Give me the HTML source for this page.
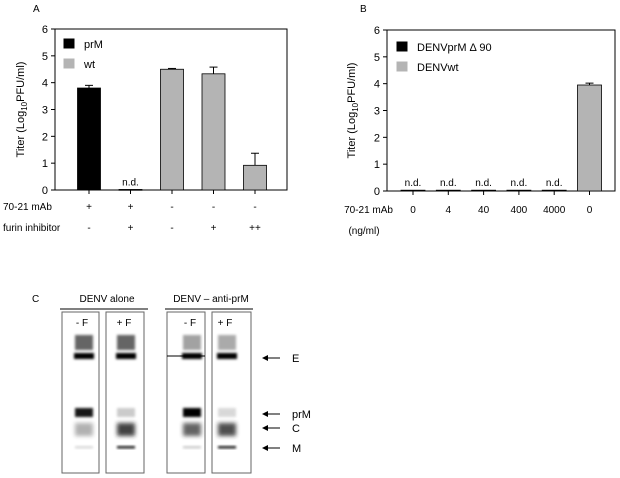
<!DOCTYPE html>
<html><head><meta charset="utf-8"><style>
body{margin:0;background:#fff;}
svg{display:block;font-family:"Liberation Sans",Arial,sans-serif;}
</style></head><body>
<svg width="620" height="478" viewBox="0 0 620 478">
<defs>
<filter id="bl" x="-50%" y="-50%" width="200%" height="200%"><feGaussianBlur stdDeviation="1.3"/></filter>
<filter id="bl2" x="-50%" y="-50%" width="200%" height="200%"><feGaussianBlur stdDeviation="2"/></filter>
</defs>
<g id="chartA"></g>
<g id="chartB"></g>
<g id="gel">
<text x="32" y="302" font-size="10">C</text>
<text x="107" y="302" font-size="10" text-anchor="middle">DENV  alone</text>
<line x1="60" y1="309" x2="148" y2="309" stroke="#000" stroke-width="1"/>
<text x="211" y="302" font-size="10" text-anchor="middle">DENV – anti-prM</text>
<line x1="165" y1="309" x2="253" y2="309" stroke="#000" stroke-width="1"/>
<g id="lanes"></g>
<g font-size="11">
<line x1="264" y1="358" x2="280" y2="358" stroke="#000"/><path d="M262 358 l6 -3 v6z" fill="#000"/><text x="292" y="362">E</text>
<line x1="264" y1="414" x2="280" y2="414" stroke="#000"/><path d="M262 414 l6 -3 v6z" fill="#000"/><text x="292" y="418">prM</text>
<line x1="264" y1="428" x2="280" y2="428" stroke="#000"/><path d="M262 428 l6 -3 v6z" fill="#000"/><text x="292" y="432">C</text>
<line x1="264" y1="448" x2="280" y2="448" stroke="#000"/><path d="M262 448 l6 -3 v6z" fill="#000"/><text x="292" y="452">M</text>
</g>
</g>
</svg>
<script>
const NS="http://www.w3.org/2000/svg";
function mk(p,t,a){const e=document.createElementNS(NS,t);for(const k in a)e.setAttribute(k,a[k]);p.appendChild(e);return e;}
// Chart A data
const aValues=[3.8,0.02,4.5,4.33,0.92];
const aErrors=[0.1,0,0.03,0.25,0.45];
const aSeries=["prM","prM","wt","wt","wt"];
const aMab=["+","+","-","-","-"];
const aFurin=["-","+","-","+","++"];
const aNd=[false,true,false,false,false];
// Chart B data
const bValues=[0.03,0.03,0.03,0.03,0.03,3.95];
const bErrors=[0,0,0,0,0,0.07];
const bSeries=["mut","mut","mut","mut","mut","wt"];
const bMab=["0","4","40","400","4000","0"];
const bNd=[true,true,true,true,true,false];
const yTicks=[0,1,2,3,4,5,6];

function chart(g,o){
  const y=v=>o.y0-(v/6)*(o.y0-o.y6);
  const x=i=>o.c0+o.step*i;
  mk(g,'rect',{x:o.x0,y:o.y6,width:o.x1-o.x0,height:o.y0-o.y6,fill:'none',stroke:'#000','stroke-width':1});
  yTicks.forEach(t=>{
    mk(g,'line',{x1:o.x0-4,x2:o.x0,y1:y(t),y2:y(t),stroke:'#000'});
    const tx=mk(g,'text',{x:o.x0-7,y:y(t)+4,'font-size':11,'text-anchor':'end'});tx.textContent=t;
    
    
  });
  o.vals.forEach((v,i)=>{
    const cx=x(i);
    mk(g,'line',{x1:cx,x2:cx,y1:o.y0,y2:o.y0+4,stroke:'#000'});
    const r=mk(g,'rect',{x:cx-o.bw/2,y:y(v),width:o.bw,height:Math.max(0.8,o.y0-y(v)),fill:o.ser[i]==='wt'?'#b4b4b4':'#000',stroke:'#000','stroke-width':0.8});
    
    
    if(o.err[i]>0){
      mk(g,'line',{x1:cx,x2:cx,y1:y(v),y2:y(v+o.err[i]),stroke:'#000'});
      mk(g,'line',{x1:cx-4,x2:cx+4,y1:y(v+o.err[i]),y2:y(v+o.err[i]),stroke:'#000'});
    }
    if(o.nd[i]){const t=mk(g,'text',{x:cx,y:y(v)-4,'font-size':10,'text-anchor':'middle'});t.textContent='n.d.';
      
      }
    o.rows.forEach((row,ri)=>{const t=mk(g,'text',{x:cx,y:o.rowY[ri],'font-size':10,'text-anchor':'middle'});t.textContent=row[i];
      
      });
  });
  const yt=mk(g,'text',{transform:`translate(${o.tx},${(o.y0+o.y6)/2}) rotate(-90)`,'font-size':11,'text-anchor':'middle'});
  yt.innerHTML='Titer (Log<tspan font-size="8" dy="3">10</tspan><tspan dy="-3">PFU/ml)</tspan>';
  
  
  o.leg.forEach((l,i)=>{
    mk(g,'rect',{x:o.lx,y:o.ly+i*20,width:10,height:9,fill:l[1],stroke:l[1]});
    const t=mk(g,'text',{x:o.lx+20,y:o.ly+i*20+9,'font-size':11});t.textContent=l[0];
    
    
  });
}
const A=document.getElementById('chartA');
chart(A,{x0:55,x1:287,y0:190,y6:29,c0:89,step:41.5,bw:23,vals:aValues,err:aErrors,ser:aSeries,nd:aNd,rows:[aMab,aFurin],rowY:[210,231],tx:24,lx:64,ly:39,leg:[["prM","#000"],["wt","#b4b4b4"]]});
mk(A,'text',{x:33,y:12,'font-size':10}).textContent='A';
mk(A,'text',{x:3,y:210,'font-size':10}).textContent='70-21 mAb';
mk(A,'text',{x:3,y:231,'font-size':10}).textContent='furin inhibitor';
const B=document.getElementById('chartB');
chart(B,{x0:387,x1:615,y0:191,y6:30,c0:413,step:35.3,bw:24,vals:bValues,err:bErrors,ser:bSeries,nd:bNd,rows:[bMab],rowY:[213],tx:355,lx:397,ly:42,leg:[["DENVprM \u0394 90","#000"],["DENVwt","#b4b4b4"]]});
mk(B,'text',{x:360,y:12,'font-size':10}).textContent='B';
mk(B,'text',{x:393,y:213,'font-size':10,'text-anchor':'end'}).textContent='70-21 mAb';
mk(B,'text',{x:364,y:234,'font-size':10,'text-anchor':'middle'}).textContent='(ng/ml)';
// Gel lanes
const L=document.getElementById('lanes');
const lanes=[[62,99,84,"- F",[1,1,0.9,0.35,0.15]],[106,144,126,"+ F",[1,1,0.2,0.85,0.9]],[167,205,192,"- F",[0.6,1,1,0.7,0.2]],[212,251,227,"+ F",[0.55,1,0.15,0.8,0.9]]];
lanes.forEach((l,i)=>{
  const g=mk(L,'g',{});
  
  
  mk(g,'rect',{x:l[0],y:312,width:l[1]-l[0],height:161,fill:'#fff',stroke:'#666','stroke-width':1});
  mk(g,'text',{x:l[2]-2,y:326,'font-size':10,'text-anchor':'middle'}).textContent=l[3];
  const c=l[2],w=18,s=l[4];
  mk(g,'rect',{x:c-w/2,y:335,width:w,height:15,fill:'#333',opacity:0.75*s[0],filter:'url(#bl)'});
  mk(g,'rect',{x:c-w/2-1,y:353,width:w+2,height:6,fill:'#000',opacity:s[1],filter:'url(#bl)'});
  mk(g,'rect',{x:c-w/2,y:408,width:w,height:9,fill:'#000',opacity:s[2],filter:'url(#bl)'});
  mk(g,'rect',{x:c-w/2,y:423,width:w,height:13,fill:'#222',opacity:s[3],filter:'url(#bl2)'});
  mk(g,'rect',{x:c-w/2,y:446,width:w,height:2.5,fill:'#000',opacity:s[4],filter:'url(#bl)'});
});
mk(L,'line',{x1:167,x2:205,y1:356,y2:356,stroke:'#000','stroke-width':1});
</script>
</body></html>
